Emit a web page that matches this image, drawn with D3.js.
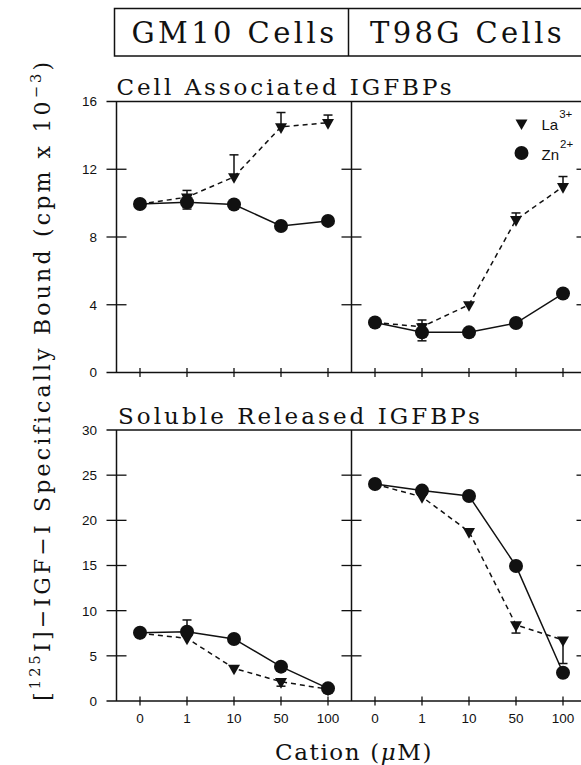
<!DOCTYPE html>
<html><head><meta charset="utf-8">
<script src="https://cdn.jsdelivr.net/npm/d3@7/dist/d3.min.js"></script>
<style>
html,body{margin:0;padding:0;background:#fff;}
svg{display:block;}
</style></head>
<body>
<svg id="chart" width="581" height="765"></svg>
<script>
// ---------------- data ----------------
const categories = ["0", "1", "10", "50", "100"];
const cellTicks = [0, 4, 8, 12, 16];
const solTicks = [0, 5, 10, 15, 20, 25, 30];
const cellLabels = cellTicks.map(String);
const solLabels = solTicks.map(String);
const cellNames = ["GM10 Cells", "T98G Cells"];
const panelTitles = ["Cell Associated IGFBPs", "Soluble Released IGFBPs"];
const legendNames = ["La", "Zn"];
const legendCharges = ["3+", "2+"];

// Cell associated (cpm x 10^-3)
const gm10CellLa = [9.95, 10.35, 11.55, 14.5, 14.75];
const gm10CellLaUp = [0, 0.4, 1.3, 0.85, 0.45];
const gm10CellZn = [9.95, 10.05, 9.92, 8.65, 8.95];
const gm10CellZnErr = [0, 0.4, 0, 0, 0];
const t98gCellLa = [2.95, 2.7, 4.0, 9.02, 10.97];
const t98gCellLaUp = [0, 0.4, 0, 0.4, 0.6];
const t98gCellZn = [2.95, 2.37, 2.37, 2.92, 4.66];
const t98gCellZnErr = [0, 0.5, 0, 0, 0];
// Soluble released
const gm10SolLa = [7.5, 6.94, 3.62, 2.14, 1.3];
const gm10SolLaDown = [0, 0, 0, 0.5, 0];
const gm10SolZn = [7.56, 7.67, 6.87, 3.8, 1.4];
const gm10SolZnUp = [0, 1.3, 0, 0, 0];
const t98gSolLa = [24.0, 22.6, 18.75, 8.42, 6.75];
const t98gSolLaDown = [0, 0, 0, 0.9, 2.6];
const t98gSolZn = [24.03, 23.29, 22.7, 14.95, 3.13];

// --------------- layout ---------------
const svg = d3.select("#chart");
const serif = "'DejaVu Serif', 'Liberation Serif', serif";
const sans = "'Liberation Sans', Arial, Helvetica, sans-serif";
const panelW = 235;
const panelLefts = [116.5, 351.5];
const rowDefs = [
  {top: 101.5, bottom: 372.5, max: 16, ticks: cellTicks, labels: cellLabels},
  {top: 430, bottom: 701, max: 30, ticks: solTicks, labels: solLabels}
];

function xScale(p) {
  return d3.scalePoint().domain(categories)
    .range([panelLefts[p], panelLefts[p] + panelW]).padding(0.5);
}
function yScale(r) {
  return d3.scaleLinear().domain([0, rowDefs[r].max]).range([rowDefs[r].bottom, rowDefs[r].top]);
}

const ink = "#111";

// spread letters so the text's width equals the target (typewriter-like look)
function spread(sel, target) {
  const w = sel.node().getComputedTextLength();
  const n = sel.text().length;
  if (w > 0 && n > 0) sel.attr("letter-spacing", ((target - w) / n).toFixed(2));
  return sel;
}

// header box
const hdr = svg.append("g");
hdr.append("rect").attr("x", 114.5).attr("y", 8.5).attr("width", 500).attr("height", 47.5)
  .attr("fill", "none").attr("stroke", ink).attr("stroke-width", 1.5);
hdr.append("line").attr("x1", 348.5).attr("x2", 348.5).attr("y1", 8.5).attr("y2", 56)
  .attr("stroke", ink).attr("stroke-width", 1.5);
spread(hdr.append("text").attr("x", 131.5).attr("y", 43).attr("font-family", serif)
  .attr("font-size", 29).attr("fill", ink).text(cellNames[0]), 206);
spread(hdr.append("text").attr("x", 370).attr("y", 43).attr("font-family", serif)
  .attr("font-size", 29).attr("fill", ink).text(cellNames[1]), 195);

// panel titles
spread(svg.append("text").attr("x", 116.5).attr("y", 95).attr("font-family", serif)
  .attr("font-size", 23).attr("fill", ink).text(panelTitles[0]), 338);
spread(svg.append("text").attr("x", 118).attr("y", 423.5).attr("font-family", serif)
  .attr("font-size", 23).attr("fill", ink).text(panelTitles[1]), 365);

// axes / frames
rowDefs.forEach((rd, r) => {
  const y = yScale(r);
  const g = svg.append("g");
  [rd.top, rd.bottom].forEach(yy => {
    g.append("line").attr("x1", panelLefts[0] - 10).attr("x2", 600)
      .attr("y1", yy).attr("y2", yy).attr("stroke", ink).attr("stroke-width", 1.5);
  });
  [panelLefts[0], panelLefts[1], panelLefts[1] + panelW].forEach(ax => {
    g.append("line").attr("x1", ax).attr("x2", ax).attr("y1", rd.top).attr("y2", rd.bottom)
      .attr("stroke", ink).attr("stroke-width", 1.5);
    g.selectAll(null).data(rd.ticks.filter(t => t > 0 && t < rd.max)).enter().append("line")
      .attr("x1", ax - 10).attr("x2", ax + 10)
      .attr("y1", d => y(d)).attr("y2", d => y(d))
      .attr("stroke", ink).attr("stroke-width", 1.3);
  });
  g.selectAll(null).data(rd.ticks).enter().append("text")
    .attr("x", 97).attr("y", d => y(d)).attr("dy", "0.36em")
    .attr("text-anchor", "end").attr("font-family", sans).attr("font-size", 13.5)
    .attr("fill", ink).text((d, i) => rd.labels[i]);
  [0, 1].forEach(p => {
    const x = xScale(p);
    g.selectAll(null).data(categories).enter().append("line")
      .attr("x1", d => x(d)).attr("x2", d => x(d))
      .attr("y1", rd.bottom - 4.5).attr("y2", rd.bottom + 4.5)
      .attr("stroke", ink).attr("stroke-width", 1.3);
  });
});

// x tick labels (bottom row only)
[0, 1].forEach(p => {
  const x = xScale(p);
  svg.selectAll(null).data(categories).enter().append("text")
    .attr("x", d => x(d)).attr("y", 723)
    .attr("text-anchor", "middle").attr("font-family", sans).attr("font-size", 13.5)
    .attr("fill", ink).text(d => d);
});

// x axis title
const xt = svg.append("text").attr("x", 275).attr("y", 760).attr("font-family", serif)
  .attr("font-size", 23).attr("fill", ink);
xt.append("tspan").text("Cation (");
xt.append("tspan").attr("font-style", "italic").text("μ");
xt.append("tspan").text("M)");
spread(xt, 158);

// y axis title
const yt = svg.append("text").attr("transform", "translate(50,701) rotate(-90)")
  .attr("font-family", serif).attr("font-size", 22).attr("fill", ink);
yt.append("tspan").text("[");
yt.append("tspan").attr("font-size", "0.66em").attr("dy", "-0.66em").text("125");
yt.append("tspan").attr("dy", "0.44em").text("I]\u2212IGF\u2212I Specifically Bound (cpm x 10");
yt.append("tspan").attr("font-size", "0.66em").attr("dy", "-0.66em").text("\u22123");
yt.append("tspan").attr("dy", "0.44em").text(")");
spread(yt, 642);

// --------------- series ---------------
const triPath = "M-6,-3.6L6,-3.6L0,7Z";
function drawSeries(p, r, vals, kind, up, down) {
  const x = xScale(p), y = yScale(r);
  const g = svg.append("g");
  const line = d3.line().x((d, i) => x(categories[i])).y(d => y(d));
  g.append("path").datum(vals).attr("d", line).attr("fill", "none").attr("stroke", ink)
    .attr("stroke-width", 1.5).attr("stroke-dasharray", kind === "La" ? "5,4" : null);
  vals.forEach((v, i) => {
    const u = up ? up[i] : 0, dn = down ? down[i] : 0;
    const cx = x(categories[i]);
    [[u, 1], [dn, -1]].forEach(([e, s]) => {
      if (e > 0) {
        const ye = y(v + s * e);
        g.append("line").attr("x1", cx).attr("x2", cx).attr("y1", y(v)).attr("y2", ye)
          .attr("stroke", ink).attr("stroke-width", 1.5);
        g.append("line").attr("x1", cx - 4.5).attr("x2", cx + 4.5).attr("y1", ye).attr("y2", ye)
          .attr("stroke", ink).attr("stroke-width", 1.5);
      }
    });
  });
  if (kind === "La") {
    g.selectAll(null).data(vals).enter().append("path").attr("d", triPath)
      .attr("transform", (d, i) => `translate(${x(categories[i])},${y(d)})`).attr("fill", ink);
  } else {
    g.selectAll(null).data(vals).enter().append("circle")
      .attr("cx", (d, i) => x(categories[i])).attr("cy", d => y(d)).attr("r", 7).attr("fill", ink);
  }
}

drawSeries(0, 0, gm10CellLa, "La", gm10CellLaUp, null);
drawSeries(0, 0, gm10CellZn, "Zn", gm10CellZnErr, gm10CellZnErr);
drawSeries(1, 0, t98gCellLa, "La", t98gCellLaUp, null);
drawSeries(1, 0, t98gCellZn, "Zn", t98gCellZnErr, t98gCellZnErr);
drawSeries(0, 1, gm10SolLa, "La", null, gm10SolLaDown);
drawSeries(0, 1, gm10SolZn, "Zn", gm10SolZnUp, null);
drawSeries(1, 1, t98gSolLa, "La", null, t98gSolLaDown);
drawSeries(1, 1, t98gSolZn, "Zn", null, null);

// legend
const lg = svg.append("g");
lg.append("path").attr("d", triPath).attr("transform", "translate(521.5,123)").attr("fill", ink);
lg.append("circle").attr("cx", 521.5).attr("cy", 153).attr("r", 7).attr("fill", ink);
[129.5, 159.5].forEach((yy, i) => {
  const t = lg.append("text").attr("x", 541.5).attr("y", yy).attr("font-family", sans)
    .attr("font-size", 15).attr("fill", ink);
  t.append("tspan").text(legendNames[i]);
  t.append("tspan").attr("font-size", 11.5).attr("dy", -12).attr("dx", 1).text(legendCharges[i]);
});
</script>
</body></html>
